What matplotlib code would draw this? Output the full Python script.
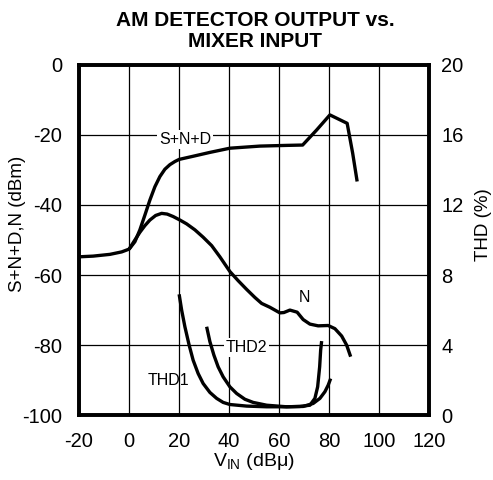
import numpy as np
import matplotlib
matplotlib.use('Agg')
import matplotlib.pyplot as plt

plt.rcParams['font.family'] = ['Liberation Sans', 'DejaVu Sans']
plt.rcParams['axes.unicode_minus'] = False

# S+N+D (dBm) vs V_IN (dBu)
snd_x = [-20, -14.3, -7.6, -2.9, 0.1, 2.4, 4.4, 6.4, 8.4, 10.4, 12.4, 14.4, 16.4, 18.4, 20.1,
         25.7, 32.4, 40.4, 52.4, 63.1, 69.5, 75.1, 80.4, 87.3, 89.5, 91.3]
snd_y = [-54.8, -54.6, -54.1, -53.4, -52.6, -50.5, -47.1, -42.9, -38.6, -34.8, -31.9, -29.8, -28.5, -27.6, -27.0,
         -26.1, -25.0, -23.8, -23.2, -23.0, -22.9, -18.6, -14.3, -16.7, -25.2, -33.3]

# N (dBm)
n_x = [0.1, 2.4, 4.4, 6.4, 8.4, 10.7, 13.1, 15.3, 17.7, 20.4, 23.1, 26.4, 29.7, 33.1, 36.4, 40.4,
       43.7, 47.1, 50.4, 53.1, 56.4, 60.4, 62.0, 64.4, 67.3, 69.7, 72.4, 75.7, 79.7, 82.4, 85.1, 87.1, 88.7]
n_y = [-52.6, -50.0, -47.8, -45.9, -44.3, -43.0, -42.4, -42.6, -43.3, -44.3, -45.4, -47.1, -49.2, -51.6, -54.8, -59.0,
       -61.6, -64.1, -66.4, -68.1, -69.2, -70.8, -70.7, -70.0, -70.6, -72.7, -74.0, -74.5, -74.4, -75.3, -77.4, -80.0, -83.3]

# THD (%) on the right axis
thd1_x = [20.1, 21.1, 22.4, 24.1, 25.7, 27.7, 29.7, 32.4, 35.1, 37.7, 40.4, 47.1, 55.1, 63.1, 68.4,
          72.4, 74.4, 75.5, 76.3, 76.7, 77.1]
thd1_y = [6.9, 6.0, 5.05, 4.0, 3.14, 2.38, 1.81, 1.30, 0.96, 0.73, 0.61, 0.52, 0.48, 0.48, 0.50,
          0.57, 0.96, 1.62, 2.76, 3.71, 4.23]

thd2_x = [31.1, 32.4, 34.0, 35.7, 37.7, 40.4, 43.1, 46.4, 49.7, 55.1, 63.1, 69.7, 73.7, 76.4, 78.4, 79.7, 80.7]
thd2_y = [5.05, 4.2, 3.43, 2.76, 2.19, 1.62, 1.24, 0.91, 0.73, 0.57, 0.48, 0.50, 0.67, 0.96, 1.34, 1.71, 2.09]

x_ticks = np.arange(-20, 121, 20)
left_ticks = np.arange(-100, 1, 20)
right_ticks = np.arange(0, 21, 4)

fig = plt.figure(figsize=(4.93, 4.80), dpi=100)
ax = fig.add_axes([0.160, 0.135, 0.710, 0.730])

line_kw = dict(color='black', lw=2.4, solid_capstyle='butt', solid_joinstyle='round', zorder=3)
ax.plot(snd_x, snd_y, **line_kw)
ax.plot(n_x, n_y, **line_kw)

ax.set_xlim(-20, 120)
ax.set_ylim(-100, 0)
ax.set_xticks(x_ticks)
ax.set_yticks(left_ticks)
ax.grid(True, color='black', lw=0.9)
ax.set_axisbelow(True)
ax.tick_params(axis='y', length=0, labelsize=14.5, pad=12)
ax.tick_params(axis='x', length=0, labelsize=14.5, pad=12)
for s in ax.spines.values():
    s.set_linewidth(2.6)

ax2 = ax.twinx()
ax2.plot(thd1_x, thd1_y, **line_kw)
ax2.plot(thd2_x, thd2_y, **line_kw)
ax2.set_ylim(0, 20)
ax2.set_yticks(right_ticks)
ax2.tick_params(length=0, labelsize=14.5, pad=9)
for s in ax2.spines.values():
    s.set_linewidth(2.6)

# curve labels
bb = dict(facecolor='white', edgecolor='none', pad=1.5)
ax.text(22.4, -21.4, 'S+N+D', fontsize=11.5, ha='center', va='center', bbox=bb, zorder=4)
ax.text(70.4, -66.4, 'N', fontsize=11.5, ha='center', va='center', zorder=4)
ax.text(47, -80.7, 'THD2', fontsize=11.5, ha='center', va='center', bbox=bb, zorder=4)
ax.text(15.7, -90, 'THD1', fontsize=11.5, ha='center', va='center', zorder=4)

ax.set_ylabel('S+N+D,N (dBm)', fontsize=13.5, va='center')
ax.yaxis.set_label_coords(-0.175, 0.545)
ax2.set_ylabel('THD (%)', fontsize=13.5, va='center')
ax2.yaxis.set_label_coords(1.155, 0.545)
ax.set_xlabel('V$_{\\mathregular{IN}}$ (dB\u03bc)', fontsize=14, labelpad=0)

fig.text(0.517, 0.935, 'AM DETECTOR OUTPUT vs.\nMIXER INPUT', ha='center', va='center',
         fontsize=15, fontweight='bold', linespacing=1.15)

plt.savefig('out.png', dpi=100)
plt.close()
